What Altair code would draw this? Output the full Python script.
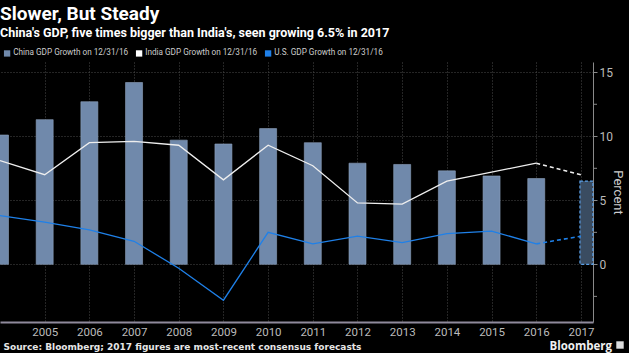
import altair as alt
import pandas as pd

years = [2004, 2005, 2006, 2007, 2008, 2009, 2010, 2011, 2012, 2013, 2014, 2015, 2016, 2017]
china = [10.1, 11.3, 12.7, 14.2, 9.7, 9.4, 10.6, 9.5, 7.9, 7.8, 7.3, 6.9, 6.7, 6.5]
india = [8.1, 7.0, 9.5, 9.6, 9.3, 6.6, 9.3, 7.7, 4.8, 4.7, 6.5, 7.2, 7.9, 7.0]
us = [3.8, 3.3, 2.7, 1.8, -0.3, -2.8, 2.5, 1.6, 2.2, 1.7, 2.4, 2.6, 1.6, 2.2]
series_names = ["China GDP Growth on 12/31/16", "India GDP Growth on 12/31/16", "U.S. GDP Growth on 12/31/16"]
series_colors = ["#7089ab", "#ffffff", "#1f80e8"]
forecast_year = 2017
major_ticks = [0, 5, 10, 15]
minor_ticks = [-2.5, 2.5, 7.5, 12.5]

FONT = "Roboto"
BOLD = "DejaVu Sans"

df = pd.DataFrame({"year": years, "china": china, "india": india, "us": us})
df["series"] = series_names[0]
actual = df[df.year < forecast_year]
forecast = df[df.year == forecast_year]
dashed = df[df.year >= forecast_year - 1]

x_scale = alt.Scale(domain=[2004, 2017.27], nice=False, zero=False, padding=0)
y_scale = alt.Scale(domain=[-4.5, 15.8], nice=False, zero=False)

x_axis = alt.Axis(
    values=years[1:], format="d", grid=True, gridColor="#4a4a4a", gridDash=[1, 2],
    ticks=False, domainColor="#8f8a9c", domainWidth=2, labelColor="#bbbbbb",
    labelFontSize=11.5, labelFont=FONT, labelPadding=4,
    title="Source: Bloomberg; 2017 figures are most-recent consensus forecasts",
    titleFont=BOLD, titleFontSize=9, titleFontWeight="bold", titleColor="#e6e6e6",
    titleAnchor="start", titleAlign="left", titleX=3, titleY=27, titleBaseline="alphabetic")

y_axis = alt.Axis(
    orient="right", values=major_ticks, format="d",
    grid=True, gridDash=[1, 2], gridColor="#4a4a4a",
    domainColor="#8a8a8a", tickColor="#8a8a8a", tickSize=4,
    labelColor="#bbbbbb", labelFontSize=12, labelFont=FONT, labelPadding=2,
    title="Percent", titleAngle=90, titleColor="#cccccc", titleFontSize=13,
    titleFont=FONT, titleFontWeight="normal",
    titleX=20, titleY=130, titleAlign="center", titleBaseline="alphabetic")


def X():
    return alt.X("year:Q", scale=x_scale, axis=x_axis)


def Y(field):
    return alt.Y(field, type="quantitative", scale=y_scale, axis=y_axis)


bars = alt.Chart(actual).mark_bar(width=17, stroke="#8ea2bd", strokeWidth=0.6, clip=True).encode(
    x=X(), y=Y("china"), y2=alt.datum(0),
    fill=alt.Fill("series:N", scale=alt.Scale(domain=series_names, range=series_colors),
                  legend=alt.Legend(title=None, orient="none", legendX=3, legendY=-13,
                                    direction="horizontal", symbolType="square", symbolSize=40,
                                    symbolStrokeWidth=0, labelColor="#cccccc", labelFontSize=8.2,
                                    labelFont=FONT, columnPadding=6, labelOffset=2)))

fbar = alt.Chart(forecast).mark_rect(xOffset=-1, x2Offset=12, fill="#3a4c61", stroke="#5aa0e8",
                                     strokeDash=[3, 2], strokeWidth=1.2).encode(
    x=X(), x2="year:Q", y=Y("china"), y2=alt.datum(0))

india_line = alt.Chart(actual).mark_line(color="#eeeeee", strokeWidth=1.3).encode(
    x=X(), y=Y("india"))
india_dash = alt.Chart(dashed).mark_line(color="#eeeeee", strokeWidth=1.6, strokeDash=[4, 3]).encode(
    x=X(), y=Y("india"))
us_line = alt.Chart(actual).mark_line(color="#1f80e8", strokeWidth=1.3).encode(
    x=X(), y=Y("us"))
us_dash = alt.Chart(dashed).mark_line(color="#1f80e8", strokeWidth=1.6, strokeDash=[4, 3]).encode(
    x=X(), y=Y("us"))

minor = alt.Chart(pd.DataFrame({"v": minor_ticks})).mark_rule(color="#8a8a8a", strokeWidth=1).encode(
    y=Y("v"), x=alt.value(593), x2=alt.value(597))

brand = alt.Chart(pd.DataFrame({"t": ["Bloomberg"]})).mark_text(
    align="right", baseline="alphabetic", color="#f0f0f0", fontSize=11.5, font="Open Sans",
    fontWeight="bold").encode(text="t:N", x=alt.value(612), y=alt.value(288))
logo = alt.Chart(pd.DataFrame({"t": ["x"]})).mark_square(
    size=55, color="#dddddd", filled=True, opacity=1).encode(x=alt.value(620), y=alt.value(283))

chart = alt.layer(bars, fbar, india_line, india_dash, us_line, us_dash, minor, brand, logo).properties(
    width=593, height=260, background="black", autosize="none",
    padding={"left": 0, "top": 62, "right": 36, "bottom": 31},
    title=alt.TitleParams(
        text="Slower, But Steady",
        subtitle="China's GDP, five times bigger than India's, seen growing 6.5% in 2017",
        anchor="start", frame="group", orient="top", offset=10,
        color="#ffffff", subtitleColor="#ffffff", font=FONT, subtitleFont=FONT,
        fontSize=19, subtitleFontSize=12.5, fontWeight="bold", subtitleFontWeight="bold",
        subtitlePadding=3)
).configure_view(stroke=None)

chart.save("out.html", embed_options={"renderer": "svg", "actions": False})
